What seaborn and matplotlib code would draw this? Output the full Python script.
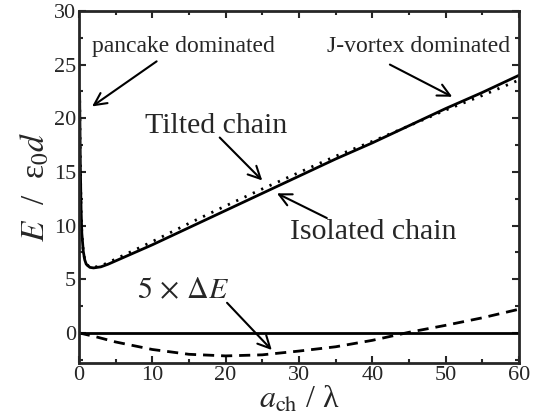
import numpy as np
import pandas as pd
import seaborn as sns
import matplotlib
matplotlib.use("Agg")
import matplotlib.pyplot as plt

# values
a_ch = [0.1, 0.2, 0.3, 0.4, 0.6, 0.8, 1.0, 1.5, 2, 3, 4, 6, 8, 10, 15, 20,
        25, 30, 35, 40, 45, 50, 55, 60]
e_isolated = [22.5, 15.5, 11.5, 9.3, 7.6, 6.8, 6.4, 6.1, 6.05, 6.15, 6.4, 7.0,
              7.6, 8.2, 9.8, 11.4, 13.0, 14.6, 16.2, 17.7, 19.3, 20.9, 22.4, 24.0]
e_tilted = [22.5, 15.5, 11.5, 9.3, 7.6, 6.8, 6.4, 6.12, 6.1, 6.25, 6.55, 7.2,
            7.85, 8.5, 10.2, 11.83, 13.41, 14.94, 16.46, 17.84, 19.29, 20.76, 22.12, 23.56]

x_diff = [0, 2.5, 5, 7.5, 10, 15, 20, 25, 30, 35, 40, 45, 50, 55, 60]
de_x5 = [0, -0.4, -0.85, -1.2, -1.55, -2.0, -2.15, -2.05, -1.7, -1.3, -0.7,
         0.05, 0.7, 1.4, 2.2]

sns.set_style("ticks")
plt.rcParams['font.family'] = ['Liberation Serif', 'DejaVu Serif']
plt.rcParams['mathtext.fontset'] = 'stix'

iso = pd.DataFrame({"x": a_ch, "E": e_isolated})
tilt = pd.DataFrame({"x": a_ch, "E": e_tilted})
diff = pd.DataFrame({"x": x_diff, "E": de_x5})

fig, ax = plt.subplots(figsize=(5.44, 4.2), dpi=100)
fig.subplots_adjust(left=0.145, right=0.954, top=0.974, bottom=0.136)

sns.lineplot(data=iso, x="x", y="E", color="black", linewidth=2, ax=ax)
sns.lineplot(data=tilt, x="x", y="E", color="black", linewidth=2,
             linestyle=(0, (0.8, 2.5)), ax=ax)
sns.lineplot(data=diff, x="x", y="E", color="black", linewidth=2,
             linestyle=(0, (4, 2.5)), ax=ax)
ax.axhline(0, color="black", linewidth=2)

ax.set_xlim(0, 60)
ax.set_ylim(-2.8, 30)
ax.set_xticks(range(0, 61, 10))
ax.set_xticks(range(5, 60, 10), minor=True)
ax.set_yticks(range(0, 31, 5))
ax.set_yticks(np.arange(-2.5, 30, 5), minor=True)
ax.tick_params(which="both", direction="in", top=True, right=True,
               width=1.5, labelsize=16, pad=2)
ax.tick_params(which="major", length=5)
ax.tick_params(which="minor", length=3)
for s in ax.spines.values():
    s.set_linewidth(2)

ax.set_xlabel(r"$a_{\rm ch}$ / λ", fontsize=23, labelpad=0)
ax.set_ylabel(r"$E$  /  ε$_0$$d$", fontsize=24, labelpad=2)

# labels
ax.text(14.25, 26.65, "pancake dominated", ha="center", va="center", fontsize=17)
ax.text(46.3, 26.65, "J-vortex dominated", ha="center", va="center", fontsize=17)
ax.text(18.7, 19.3, "Tilted chain", ha="center", va="center", fontsize=21.5)
ax.text(40.2, 9.4, "Isolated chain", ha="center", va="center", fontsize=21.5)
ax.text(14.2, 3.9, r"$5\,\times\,\Delta E$", ha="center", va="center", fontsize=21.5)

# arrows
arrow = dict(arrowstyle="->", color="black", lw=1.5, mutation_scale=22,
             shrinkA=0, shrinkB=0)
ax.annotate("", xy=(1.8, 21.1), xytext=(10.6, 25.3), arrowprops=arrow)
ax.annotate("", xy=(50.9, 22.0), xytext=(42.4, 25.0), arrowprops=arrow)
ax.annotate("", xy=(25.0, 14.2), xytext=(19.2, 18.2), arrowprops=arrow)
ax.annotate("", xy=(27.0, 13.0), xytext=(33.8, 10.7), arrowprops=arrow)
ax.annotate("", xy=(26.3, -1.6), xytext=(20.2, 2.8), arrowprops=arrow)

fig.savefig("out.png", dpi=100)
